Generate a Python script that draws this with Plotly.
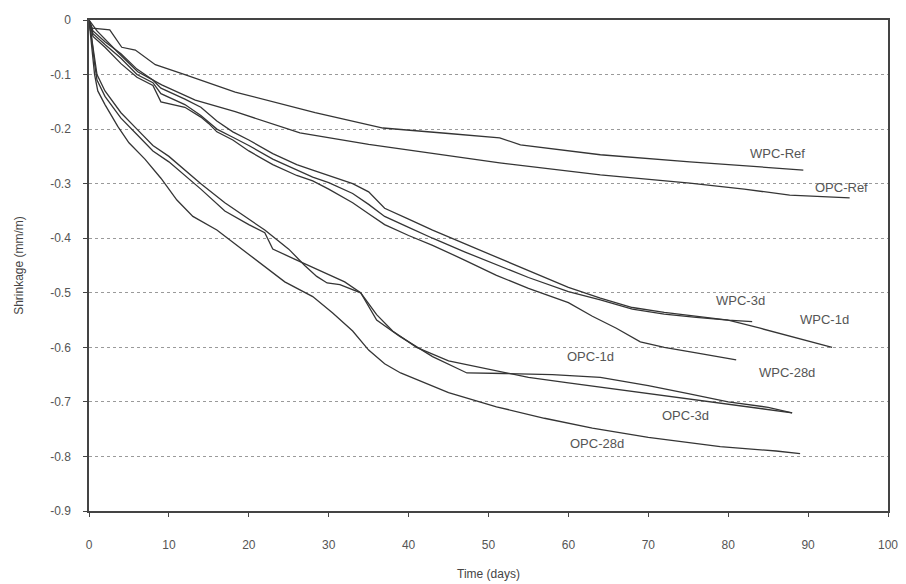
import plotly.graph_objects as go

# ---- data (days, shrinkage mm/m) ----
wpc_ref_x = [0, 0.4, 2.6, 4.1, 5.8, 8.3, 12, 18.3, 28.3, 36.8, 45, 51.4, 54, 64, 75.2, 82, 89.4]
wpc_ref_y = [0, -0.015, -0.018, -0.05, -0.055, -0.082, -0.10, -0.132, -0.17, -0.198, -0.208, -0.216, -0.229, -0.247, -0.26, -0.267, -0.275]

opc_ref_x = [0, 1, 3.6, 6.1, 9.1, 13.3, 18.3, 26.4, 35, 43, 51.4, 64, 75.2, 82, 87.7, 95.2]
opc_ref_y = [0, -0.02, -0.059, -0.095, -0.119, -0.147, -0.168, -0.207, -0.228, -0.245, -0.262, -0.284, -0.299, -0.31, -0.321, -0.326]

wpc3_x = [0, 0.5, 2, 4, 6, 8, 9, 12, 14, 16, 18, 20, 23, 26, 28, 30, 33, 35, 37, 40, 43, 47, 51, 55, 60, 64, 68, 72, 76, 80, 83]
wpc3_y = [0, -0.02, -0.04, -0.062, -0.09, -0.11, -0.125, -0.145, -0.16, -0.185, -0.205, -0.22, -0.245, -0.265, -0.275, -0.285,
          -0.3, -0.315, -0.345, -0.365, -0.385, -0.41, -0.435, -0.46, -0.49, -0.51, -0.527, -0.536, -0.543, -0.55, -0.553]

wpc1_x = [0, 0.5, 2, 4, 6, 8, 9, 12, 14, 16, 18, 20, 23, 26, 28, 30, 33, 35, 37, 40, 43, 47, 51, 55, 60, 64, 68, 72, 76, 80, 84, 88, 93]
wpc1_y = [0, -0.025, -0.045, -0.07, -0.1, -0.115, -0.135, -0.155, -0.175, -0.2, -0.215, -0.23, -0.255, -0.275, -0.288, -0.298,
          -0.318, -0.338, -0.36, -0.38, -0.4, -0.425, -0.448, -0.472, -0.498, -0.513, -0.53, -0.539, -0.545, -0.55, -0.565, -0.58, -0.6]

wpc28_x = [0, 0.5, 2, 4, 6, 8, 9, 12, 14, 15, 16, 18, 20, 23, 26, 28, 30, 33, 35, 37, 40, 43, 47, 51, 55, 60, 63, 66, 69, 72, 76, 81]
wpc28_y = [0, -0.03, -0.05, -0.08, -0.105, -0.12, -0.15, -0.16, -0.178, -0.19, -0.205, -0.22, -0.24, -0.265, -0.285, -0.295,
           -0.31, -0.335, -0.355, -0.375, -0.395, -0.413, -0.44, -0.468, -0.492, -0.518, -0.543, -0.565, -0.59, -0.6, -0.61, -0.623]

opc1_x = [0, 0.3, 0.7, 1, 2, 4, 6, 8, 10, 12, 14, 17, 20, 22, 25, 27, 28.5, 29.8, 31.4, 33, 34, 36, 38.9, 43, 47.3, 52, 58, 64, 70, 75, 80, 85, 88]
opc1_y = [0, -0.03, -0.07, -0.1, -0.13, -0.17, -0.2, -0.23, -0.25, -0.275, -0.3, -0.335, -0.365, -0.385, -0.42, -0.45, -0.47, -0.482,
          -0.485, -0.494, -0.5, -0.55, -0.58, -0.617, -0.647, -0.648, -0.65, -0.655, -0.67, -0.685, -0.7, -0.71, -0.72]

opc3_x = [0, 0.3, 0.7, 1, 2, 4, 6, 8, 10, 12, 14, 17, 20, 22, 23, 26, 29, 32, 34, 36, 38, 41, 45, 50, 55, 60, 65, 70, 75, 80, 85, 88]
opc3_y = [0, -0.03, -0.08, -0.11, -0.14, -0.18, -0.21, -0.24, -0.26, -0.285, -0.31, -0.35, -0.375, -0.39, -0.42, -0.44, -0.46,
          -0.48, -0.5, -0.54, -0.57, -0.6, -0.625, -0.64, -0.655, -0.665, -0.675, -0.685, -0.695, -0.705, -0.715, -0.72]

opc28_x = [0, 0.3, 0.7, 1.1, 2, 3.6, 5, 7, 9, 11, 13, 16, 20, 24.5, 28, 30.5, 33, 35, 37, 39, 45, 51, 57, 63, 70, 79, 86, 89]
opc28_y = [0, -0.04, -0.1, -0.13, -0.155, -0.195, -0.225, -0.255, -0.29, -0.33, -0.36, -0.385, -0.43, -0.48, -0.507, -0.537,
           -0.57, -0.605, -0.63, -0.647, -0.683, -0.709, -0.73, -0.748, -0.765, -0.782, -0.79, -0.795]

series = [
    ("WPC-Ref", wpc_ref_x, wpc_ref_y),
    ("OPC-Ref", opc_ref_x, opc_ref_y),
    ("WPC-3d", wpc3_x, wpc3_y),
    ("WPC-1d", wpc1_x, wpc1_y),
    ("WPC-28d", wpc28_x, wpc28_y),
    ("OPC-1d", opc1_x, opc1_y),
    ("OPC-3d", opc3_x, opc3_y),
    ("OPC-28d", opc28_x, opc28_y),
]

label_names = ["WPC-Ref", "OPC-Ref", "WPC-3d", "WPC-1d", "WPC-28d", "OPC-1d", "OPC-3d", "OPC-28d"]
label_x = [86.2, 94.2, 81.6, 92.1, 87.4, 62.8, 74.7, 63.6]
label_y = [-0.244, -0.307, -0.515, -0.549, -0.647, -0.617, -0.725, -0.777]

x_ticks = [0, 10, 20, 30, 40, 50, 60, 70, 80, 90, 100]
y_ticks = [0, -0.1, -0.2, -0.3, -0.4, -0.5, -0.6, -0.7, -0.8, -0.9]
y_tick_text = ["0", "-0.1", "-0.2", "-0.3", "-0.4", "-0.5", "-0.6", "-0.7", "-0.8", "-0.9"]

FONT = "Liberation Sans, Arial, sans-serif"

fig = go.Figure()
for name, xs, ys in series:
    fig.add_trace(go.Scatter(x=xs, y=ys, mode="lines", name=name,
                             line=dict(color="#353535", width=1.3), showlegend=False))

for t, lx, ly in zip(label_names, label_x, label_y):
    fig.add_annotation(x=lx, y=ly, xref="x", yref="y", text=t, showarrow=False,
                       font=dict(family=FONT, size=13, color="#555555"))

tick_font = dict(family=FONT, size=12, color="#555555")
title_font = dict(family=FONT, size=12, color="#444444")

fig.update_layout(
    width=906, height=584,
    margin=dict(l=89, r=18, t=20, b=73),
    paper_bgcolor="white", plot_bgcolor="white",
    xaxis=dict(range=[0, 100], tickvals=x_ticks, ticks="outside", ticklen=4, tickcolor="#444",
               showline=True, linecolor="#444", linewidth=1.5, mirror=True, automargin=False,
               showgrid=False, zeroline=False, tickfont=tick_font, ticklabelstandoff=18,
               title=dict(text="Time (days)", font=title_font, standoff=18)),
    yaxis=dict(range=[-0.9, 0], tickvals=y_ticks, ticktext=y_tick_text, ticks="outside", ticklen=4,
               tickcolor="#444", showline=True, linecolor="#444", linewidth=1.5, mirror=True,
               showgrid=True, gridcolor="#9a9a9a", gridwidth=1, griddash="dot", automargin=False,
               zeroline=False, tickfont=tick_font, ticklabelstandoff=10,
               title=dict(text="Shrinkage (mm/m)", font=title_font, standoff=24)),
)

fig.write_html("out.html")
